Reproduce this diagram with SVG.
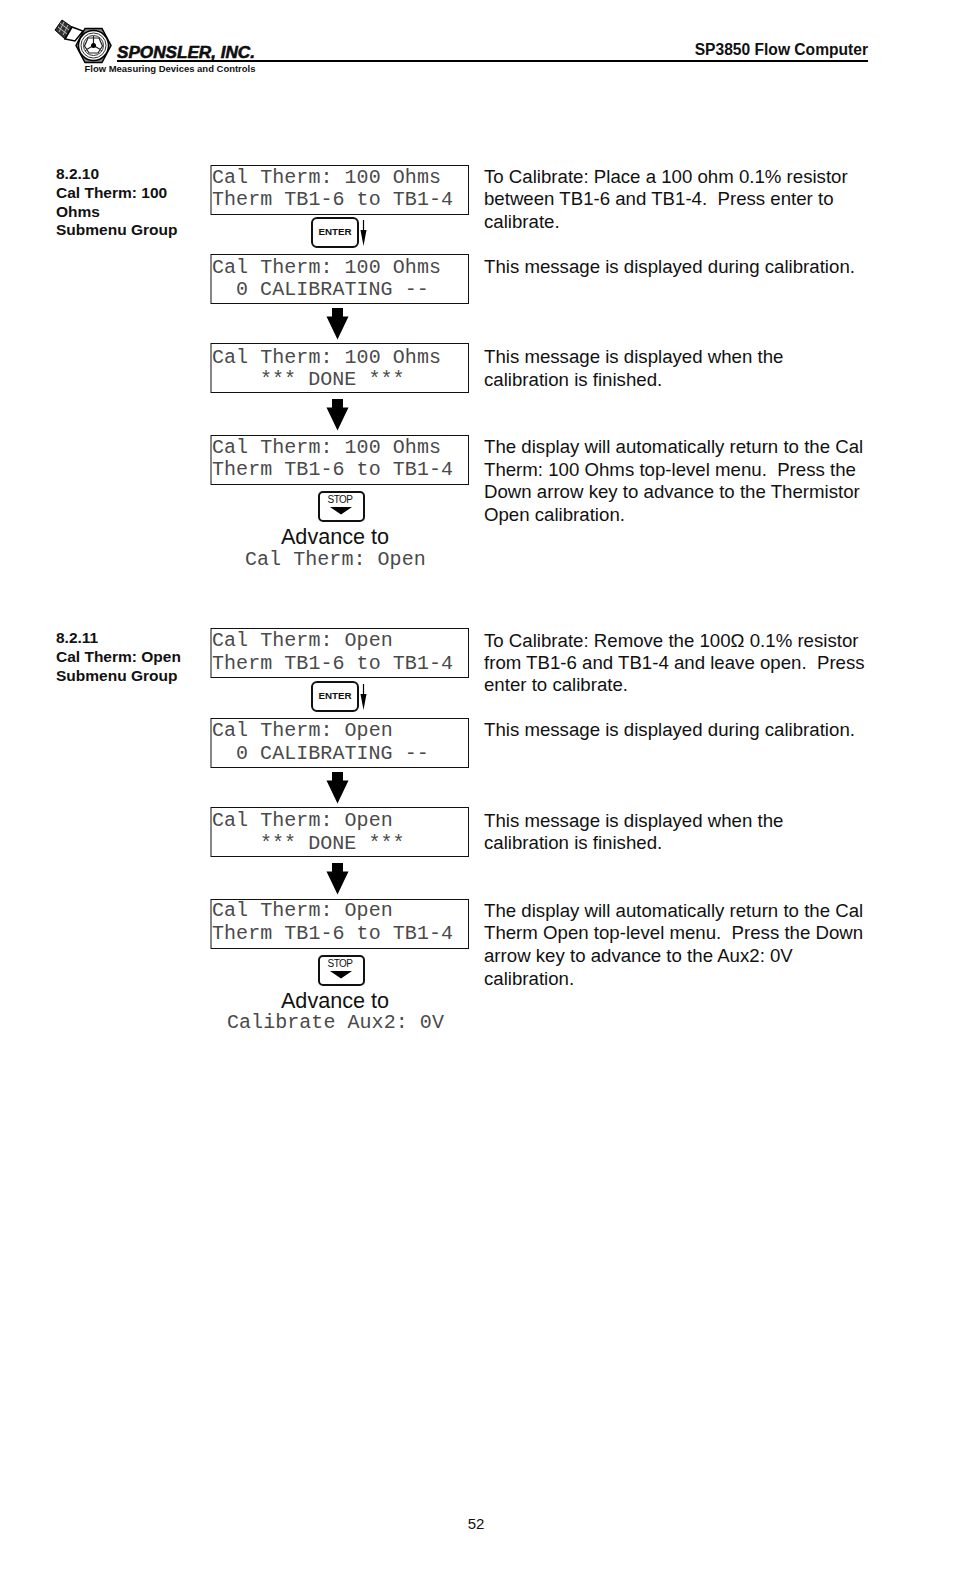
<svg xmlns="http://www.w3.org/2000/svg" width="954" height="1572" viewBox="0 0 954 1572">
<style>
text{font-family:"Liberation Sans",Arial,sans-serif;fill:#111;white-space:pre}
.lcd{font-family:"Liberation Mono","DejaVu Sans Mono",monospace;font-size:20px;letter-spacing:.05px;fill:#4a4a4a}
.box{fill:#fff;stroke:#111;stroke-width:1}
.body{font-size:18.65px}
.head{font-size:15.500px;font-weight:bold}
.adv{font-size:21.600px;text-anchor:middle}
.key{fill:#fff;stroke:#111;stroke-width:2}
.ent{font-size:9.800px;font-weight:bold;text-anchor:middle}
.stp{font-size:10px;text-anchor:middle;letter-spacing:-.5px}
</style>
<defs>
<path id="bigArrow" d="M-5.500 0H5.500V8.500H11L0 31.500L-11 8.500H-5.500Z" fill="#000"/>
<g id="enterKey"><rect class="key" x="0" y="0" width="46" height="29" rx="5"/><text class="ent" x="23" y="17">ENTER</text><path d="M51.500 2V15" stroke="#000" stroke-width="1.200"/><path d="M48.500 12H54.500L51.500 28Z" fill="#000"/></g>
<g id="stopKey"><rect class="key" x="0" y="0" width="45" height="29" rx="4"/><text class="stp" x="21" y="10.500">STOP</text><path d="M11 15H33L22 22.500Z" fill="#000"/></g>
</defs>
<g id="header">
<g id="logo">
<path d="M62 20L72 27L65 39L55 30Z" fill="#333" stroke="#000"/>
<path d="M60 23L69 30M58 27L67 34M64 22L59 32M68 25L63 35" stroke="#bbb" stroke-width="1" fill="none"/>
<path d="M72 27L83 31L75 41L65 39Z" fill="#fff" stroke="#000" stroke-width="1.500"/>
<path d="M85 28.500H102L111 45.500L102 62.500H85L76 45.500Z" fill="#888" stroke="#000" stroke-width="1.500"/>
<circle cx="93.500" cy="45.500" r="15" fill="#fff" stroke="#000" stroke-width="1.500"/>
<circle cx="93.500" cy="45.500" r="12.500" fill="none" stroke="#333" stroke-width="1"/>
<circle cx="93.500" cy="45.500" r="10" fill="none" stroke="#333" stroke-width="1"/>
<path d="M93.500 45.500V36M93.500 45.500L85 50.500M93.500 45.500L102 50.500M88 38L84.500 46L89 53H98L102.500 46L99 38Z" fill="none" stroke="#222" stroke-width="1.200"/>
<circle cx="93.500" cy="45.500" r="2.500" fill="#000"/>
<text x="117" y="57.500" font-size="16" font-weight="bold" font-style="italic" fill="#000" stroke="#000" stroke-width=".5" textLength="138" lengthAdjust="spacingAndGlyphs">SPONSLER, INC.</text>
<text x="84.500" y="72" font-size="9" font-weight="bold" fill="#333" textLength="171" lengthAdjust="spacingAndGlyphs">Flow Measuring Devices and Controls</text>
</g>
<path d="M117 61H868" stroke="#000" stroke-width="2"/>
<text x="868" y="55" font-size="15.600" font-weight="bold" text-anchor="end">SP3850 Flow Computer</text>
</g>
<g id="connectors">
<use href="#bigArrow" x="337.500" y="308"/>
<use href="#bigArrow" x="337.500" y="399"/>
<use href="#bigArrow" x="337.500" y="772"/>
<use href="#bigArrow" x="337.500" y="863"/>
</g>
<g id="section-8-2-10">
<g id="heading-10"><text class="head" x="56" y="179">8.2.10</text><text class="head" x="56" y="198">Cal Therm: 100</text><text class="head" x="56" y="217">Ohms</text><text class="head" x="56" y="235">Submenu Group</text></g>
<g id="lcd-10-1"><rect class="box" x="211" y="165.500" width="257.500" height="49"/><text class="lcd" x="212" y="182.500">Cal Therm: 100 Ohms</text><text class="lcd" x="212" y="205">Therm TB1-6 to TB1-4</text></g>
<g id="enter-10"><use href="#enterKey" x="312" y="218"/></g>
<g id="lcd-10-2"><rect class="box" x="211" y="254.500" width="257.500" height="49"/><text class="lcd" x="212" y="272.500">Cal Therm: 100 Ohms</text><text class="lcd" x="236" y="294.500">0 CALIBRATING --</text></g>
<g id="lcd-10-3"><rect class="box" x="211" y="343.500" width="257.500" height="49"/><text class="lcd" x="212" y="362.500">Cal Therm: 100 Ohms</text><text class="lcd" x="260" y="384.500">*** DONE ***</text></g>
<g id="lcd-10-4"><rect class="box" x="211" y="435.500" width="257.500" height="49"/><text class="lcd" x="212" y="452.500">Cal Therm: 100 Ohms</text><text class="lcd" x="212" y="475">Therm TB1-6 to TB1-4</text></g>
<g id="stop-10"><use href="#stopKey" x="319" y="492"/></g>
<g id="advance-10"><text class="adv" x="335" y="544">Advance to</text><text class="lcd" x="245" y="565">Cal Therm: Open</text></g>
<g id="desc-10-1"><text class="body" x="484" y="183">To Calibrate: Place a 100 ohm 0.1% resistor</text><text class="body" x="484" y="205">between TB1-6 and TB1-4.  Press enter to</text><text class="body" x="484" y="228">calibrate.</text></g>
<g id="desc-10-2"><text class="body" x="484" y="273">This message is displayed during calibration.</text></g>
<g id="desc-10-3"><text class="body" x="484" y="363">This message is displayed when the</text><text class="body" x="484" y="386">calibration is finished.</text></g>
<g id="desc-10-4"><text class="body" x="484" y="453">The display will automatically return to the Cal</text><text class="body" x="484" y="476">Therm: 100 Ohms top-level menu.  Press the</text><text class="body" x="484" y="498">Down arrow key to advance to the Thermistor</text><text class="body" x="484" y="521">Open calibration.</text></g>
</g>
<g id="section-8-2-11">
<g id="heading-11"><text class="head" x="56" y="643">8.2.11</text><text class="head" x="56" y="662">Cal Therm: Open</text><text class="head" x="56" y="681">Submenu Group</text></g>
<g id="lcd-11-1"><rect class="box" x="211" y="628.500" width="257.500" height="49"/><text class="lcd" x="212" y="646">Cal Therm: Open</text><text class="lcd" x="212" y="668.500">Therm TB1-6 to TB1-4</text></g>
<g id="enter-11"><use href="#enterKey" x="312" y="682"/></g>
<g id="lcd-11-2"><rect class="box" x="211" y="718.500" width="257.500" height="49"/><text class="lcd" x="212" y="736">Cal Therm: Open</text><text class="lcd" x="236" y="758.500">0 CALIBRATING --</text></g>
<g id="lcd-11-3"><rect class="box" x="211" y="807.500" width="257.500" height="49"/><text class="lcd" x="212" y="826">Cal Therm: Open</text><text class="lcd" x="260" y="848.500">*** DONE ***</text></g>
<g id="lcd-11-4"><rect class="box" x="211" y="899.500" width="257.500" height="49"/><text class="lcd" x="212" y="916">Cal Therm: Open</text><text class="lcd" x="212" y="939">Therm TB1-6 to TB1-4</text></g>
<g id="stop-11"><use href="#stopKey" x="319" y="956"/></g>
<g id="advance-11"><text class="adv" x="335" y="1008">Advance to</text><text class="lcd" x="227" y="1028">Calibrate Aux2: 0V</text></g>
<g id="desc-11-1"><text class="body" x="484" y="647">To Calibrate: Remove the 100Ω 0.1% resistor</text><text class="body" x="484" y="669">from TB1-6 and TB1-4 and leave open.  Press</text><text class="body" x="484" y="691">enter to calibrate.</text></g>
<g id="desc-11-2"><text class="body" x="484" y="736">This message is displayed during calibration.</text></g>
<g id="desc-11-3"><text class="body" x="484" y="827">This message is displayed when the</text><text class="body" x="484" y="849">calibration is finished.</text></g>
<g id="desc-11-4"><text class="body" x="484" y="917">The display will automatically return to the Cal</text><text class="body" x="484" y="939">Therm Open top-level menu.  Press the Down</text><text class="body" x="484" y="962">arrow key to advance to the Aux2: 0V</text><text class="body" x="484" y="985">calibration.</text></g>
</g>
<text id="page-number" x="476" y="1529" font-size="15" text-anchor="middle">52</text>
</svg>
